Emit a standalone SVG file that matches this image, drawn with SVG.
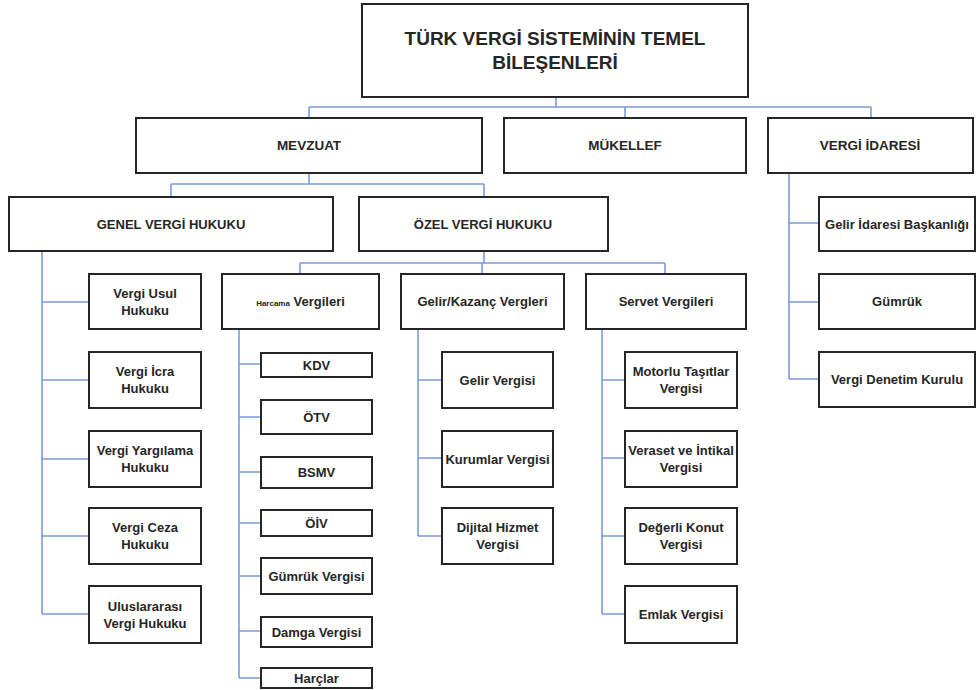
<svg xmlns="http://www.w3.org/2000/svg" width="977" height="690" viewBox="0 0 977 690">
<style>
.b{fill:#fff;stroke:#262626;stroke-width:2}
.t{font-family:"Liberation Sans",Arial,sans-serif;font-weight:bold;font-size:13px;fill:#262626;text-anchor:middle}
.h{font-size:19px}
.u{font-size:13.5px}
.c{fill:none;stroke:#7b9bd9;stroke-width:1.6}
</style>
<rect width="977" height="690" fill="#fff"/>
<g id="connectors" class="c">
<path d="M556 97V107M309 107H871M309 107V118M625 107V118M871 107V118"/>
<path d="M309 173V184M171 184H484M171 184V197M484 184V197"/>
<path d="M484 251V263M300 263H665M300 263V274M482 263V274M665 263V274"/>
<path d="M42 251V614M42 302H89M42 380H89M42 459H89M42 536H89M42 614H89"/>
<path d="M239 329V678M239 364H261M239 417H261M239 472H261M239 523H261M239 576H261M239 631H261M239 678H261"/>
<path d="M418 329V536M418 380H442M418 458H442M418 536H442"/>
<path d="M602 329V614M602 380H625M602 458H625M602 536H625M602 614H625"/>
<path d="M789 173V379M789 223H819M789 302H819M789 379H819"/>
</g>
<g id="root"><rect class="b" x="362" y="4" width="386" height="93"/><text class="t h" x="555" y="45">TÜRK VERGİ SİSTEMİNİN TEMEL</text><text class="t h" x="555" y="69">BİLEŞENLERİ</text></g>
<g id="mevzuat"><rect class="b" x="136" y="118" width="346" height="55"/><text class="t u" x="309" y="150">MEVZUAT</text></g>
<g id="mukellef"><rect class="b" x="504" y="118" width="242" height="55"/><text class="t u" x="625" y="150">MÜKELLEF</text></g>
<g id="vergi-idaresi"><rect class="b" x="768" y="118" width="205" height="55"/><text class="t u" x="870" y="150">VERGİ İDARESİ</text></g>
<g id="genel"><rect class="b" x="9" y="197" width="324" height="54"/><text class="t" x="171" y="228.5">GENEL VERGİ HUKUKU</text></g>
<g id="ozel"><rect class="b" x="359" y="197" width="249" height="54"/><text class="t" x="483" y="228.5">ÖZEL VERGİ HUKUKU</text></g>
<g id="usul"><rect class="b" x="89" y="274" width="112" height="55"/><text class="t" x="145" y="297.5">Vergi Usul</text><text class="t" x="145" y="314.5">Hukuku</text></g>
<g id="icra"><rect class="b" x="89" y="352" width="112" height="56"/><text class="t" x="145" y="376">Vergi İcra</text><text class="t" x="145" y="393">Hukuku</text></g>
<g id="yargilama"><rect class="b" x="89" y="431" width="112" height="56"/><text class="t" x="145" y="455">Vergi Yargılama</text><text class="t" x="145" y="472">Hukuku</text></g>
<g id="ceza"><rect class="b" x="89" y="508" width="112" height="56"/><text class="t" x="145" y="532">Vergi Ceza</text><text class="t" x="145" y="549">Hukuku</text></g>
<g id="uluslararasi"><rect class="b" x="89" y="586" width="112" height="57"/><text class="t" x="145" y="610.5">Uluslararası</text><text class="t" x="145" y="627.5">Vergi Hukuku</text></g>
<g id="harcama"><rect class="b" x="222" y="274" width="157" height="55"/><text class="t" x="300.5" y="306"><tspan font-size="8">Harcama</tspan> Vergileri</text></g>
<g id="gelir-kazanc"><rect class="b" x="401" y="274" width="163" height="55"/><text class="t" x="482.5" y="306">Gelir/Kazanç Vergleri</text></g>
<g id="servet"><rect class="b" x="586" y="274" width="160" height="55"/><text class="t" x="666" y="306">Servet Vergileri</text></g>
<g id="kdv"><rect class="b" x="261" y="353" width="111" height="24"/><text class="t" x="316.5" y="369.5">KDV</text></g>
<g id="otv"><rect class="b" x="261" y="400" width="111" height="34"/><text class="t" x="316.5" y="421.5">ÖTV</text></g>
<g id="bsmv"><rect class="b" x="261" y="457" width="111" height="31"/><text class="t" x="316.5" y="477">BSMV</text></g>
<g id="oiv"><rect class="b" x="261" y="510" width="111" height="26"/><text class="t" x="316.5" y="527.5">ÖİV</text></g>
<g id="gumruk-vergisi"><rect class="b" x="261" y="558" width="111" height="36"/><text class="t" x="316.5" y="580.5">Gümrük Vergisi</text></g>
<g id="damga"><rect class="b" x="261" y="617" width="111" height="30"/><text class="t" x="316.5" y="636.5">Damga Vergisi</text></g>
<g id="harclar"><rect class="b" x="261" y="668" width="111" height="20"/><text class="t" x="316.5" y="682.5">Harçlar</text></g>
<g id="gelir-vergisi"><rect class="b" x="442" y="352" width="111" height="56"/><text class="t" x="497.5" y="384.5">Gelir Vergisi</text></g>
<g id="kurumlar"><rect class="b" x="442" y="431" width="111" height="56"/><text class="t" x="497.5" y="463.5">Kurumlar Vergisi</text></g>
<g id="dijital"><rect class="b" x="442" y="508" width="111" height="56"/><text class="t" x="497.5" y="532">Dijital Hizmet</text><text class="t" x="497.5" y="549">Vergisi</text></g>
<g id="motorlu"><rect class="b" x="625" y="352" width="112" height="56"/><text class="t" x="681" y="376">Motorlu Taşıtlar</text><text class="t" x="681" y="393">Vergisi</text></g>
<g id="veraset"><rect class="b" x="625" y="431" width="112" height="56"/><text class="t" x="681" y="455">Veraset ve İntikal</text><text class="t" x="681" y="472">Vergisi</text></g>
<g id="degerli"><rect class="b" x="625" y="508" width="112" height="56"/><text class="t" x="681" y="532">Değerli Konut</text><text class="t" x="681" y="549">Vergisi</text></g>
<g id="emlak"><rect class="b" x="625" y="586" width="112" height="57"/><text class="t" x="681" y="619">Emlak Vergisi</text></g>
<g id="gib"><rect class="b" x="819" y="197" width="156" height="54"/><text class="t" x="897" y="228.5">Gelir İdaresi Başkanlığı</text></g>
<g id="gumruk"><rect class="b" x="819" y="274" width="156" height="55"/><text class="t" x="897" y="306">Gümrük</text></g>
<g id="vdk"><rect class="b" x="819" y="352" width="156" height="55"/><text class="t" x="897" y="384">Vergi Denetim Kurulu</text></g>
</svg>
